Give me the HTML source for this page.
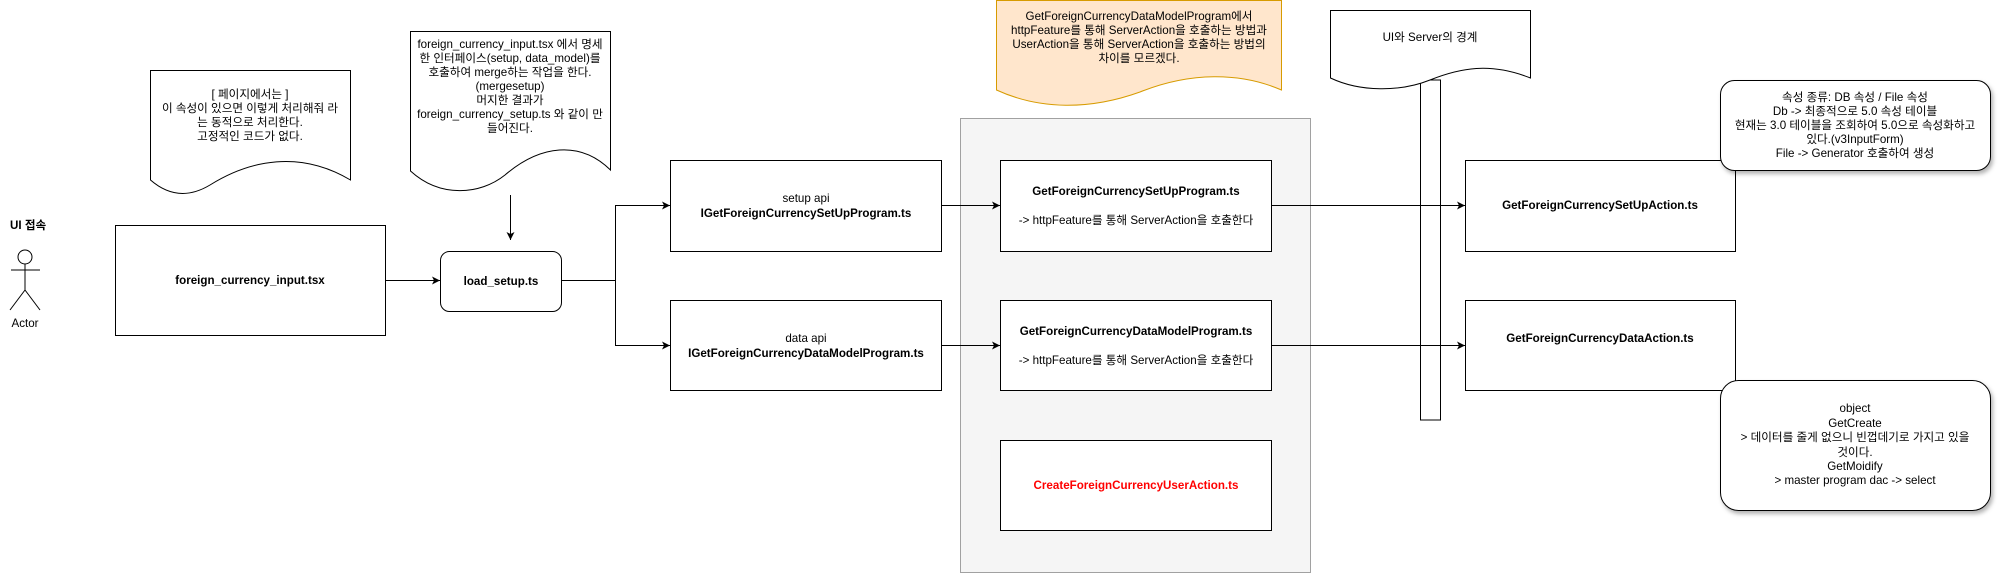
<!DOCTYPE html>
<html><head><meta charset="utf-8"><style>
html,body{margin:0;padding:0;background:#fff;}
svg{display:block;font-family:"Liberation Sans","Noto Sans CJK KR",sans-serif;}
text{font-size:11.6px;fill:#000;}
.b{font-weight:bold;}
</style></head><body>
<svg width="1998" height="574" viewBox="0 0 1998 574" xmlns="http://www.w3.org/2000/svg">
<defs>
<marker id="a" markerWidth="10" markerHeight="10" refX="9" refY="5" orient="auto" markerUnits="userSpaceOnUse">
<path d="M1,1 L9,5 L1,9 L3,5 Z" fill="#000"/></marker>
<filter id="sh" x="-10%" y="-10%" width="130%" height="130%"><feDropShadow dx="2" dy="3" stdDeviation="2" flood-opacity="0.3"/></filter>
</defs>

<rect x="960.5" y="118.5" width="350" height="454" fill="#f5f5f5" stroke="#666" stroke-opacity="0.6"/>

<path d="M150.5,70.5 H350.5 V180 C300,150 250,160 210,185 C190,197 170,197 150.5,180 Z" fill="#fff" stroke="#000"/>
<text text-anchor="middle" x="250" y="98">[ 페이지에서는 ]</text>
<text text-anchor="middle" x="250" y="112">이 속성이 있으면 이렇게 처리해줘 라</text>
<text text-anchor="middle" x="250" y="126">는 동적으로 처리한다.</text>
<text text-anchor="middle" x="250" y="140">고정적인 코드가 없다.</text>

<path d="M410.5,31.5 H610.5 V170 C580,140 540,145 505,175 C480,195 440,198 410.5,171 Z" fill="#fff" stroke="#000"/>
<text text-anchor="middle" x="510" y="48">foreign_currency_input.tsx 에서 명세</text>
<text text-anchor="middle" x="510" y="62">한 인터페이스(setup, data_model)를</text>
<text text-anchor="middle" x="510" y="76">호출하여 merge하는 작업을 한다.</text>
<text text-anchor="middle" x="510" y="90">(mergesetup)</text>
<text text-anchor="middle" x="510" y="104">머지한 결과가</text>
<text text-anchor="middle" x="510" y="118">foreign_currency_setup.ts 와 같이 만</text>
<text text-anchor="middle" x="510" y="132">들어진다.</text>
<line x1="510.5" y1="195" x2="510.5" y2="240" stroke="#000" marker-end="url(#a)"/>

<text class="b" x="10" y="229">UI 접속</text>
<circle cx="25" cy="257" r="7" fill="#fff" stroke="#000"/>
<line x1="25" y1="264" x2="25" y2="290" stroke="#000"/>
<line x1="11" y1="270" x2="40" y2="270" stroke="#000"/>
<line x1="25" y1="290" x2="10" y2="310" stroke="#000"/>
<line x1="25" y1="290" x2="40" y2="310" stroke="#000"/>
<text text-anchor="middle" x="25" y="327">Actor</text>

<rect x="115.5" y="225.5" width="270" height="110" fill="#fff" stroke="#000"/>
<text class="b" text-anchor="middle" x="250" y="284">foreign_currency_input.tsx</text>
<line x1="385" y1="280.5" x2="440" y2="280.5" stroke="#000" marker-end="url(#a)"/>

<rect x="440.5" y="251.5" width="121" height="60" rx="9" fill="#fff" stroke="#000"/>
<text class="b" text-anchor="middle" x="501" y="285">load_setup.ts</text>

<path d="M561,280.5 H615.5 V205.5 H670" fill="none" stroke="#000" marker-end="url(#a)"/>
<path d="M615.5,280 V345.5 H670" fill="none" stroke="#000" marker-end="url(#a)"/>

<rect x="670.5" y="160.5" width="271" height="91" fill="#fff" stroke="#000"/>
<text text-anchor="middle" x="806" y="202">setup api</text>
<text class="b" text-anchor="middle" x="806" y="217">IGetForeignCurrencySetUpProgram.ts</text>
<rect x="670.5" y="300.5" width="271" height="90" fill="#fff" stroke="#000"/>
<text text-anchor="middle" x="806" y="342">data api</text>
<text class="b" text-anchor="middle" x="806" y="357">IGetForeignCurrencyDataModelProgram.ts</text>

<line x1="941" y1="205.5" x2="1000" y2="205.5" stroke="#000" marker-end="url(#a)"/>
<line x1="941" y1="345.5" x2="1000" y2="345.5" stroke="#000" marker-end="url(#a)"/>

<path d="M996.5,0.5 H1281.5 V90 C1240,72 1190,72 1140,92 C1090,110 1040,110 996.5,90 Z" fill="#ffe6cc" stroke="#d79b00"/>
<text text-anchor="middle" x="1139" y="20">GetForeignCurrencyDataModelProgram에서</text>
<text text-anchor="middle" x="1139" y="34">httpFeature를 통해 ServerAction을 호출하는 방법과</text>
<text text-anchor="middle" x="1139" y="48">UserAction을 통해 ServerAction을 호출하는 방법의</text>
<text text-anchor="middle" x="1139" y="62">차이를 모르겠다.</text>

<rect x="1000.5" y="160.5" width="271" height="91" fill="#fff" stroke="#000"/>
<text class="b" text-anchor="middle" x="1136" y="195">GetForeignCurrencySetUpProgram.ts</text>
<text text-anchor="middle" x="1136" y="224">-&gt; httpFeature를 통해 ServerAction을 호출한다</text>
<rect x="1000.5" y="300.5" width="271" height="90" fill="#fff" stroke="#000"/>
<text class="b" text-anchor="middle" x="1136" y="335">GetForeignCurrencyDataModelProgram.ts</text>
<text text-anchor="middle" x="1136" y="364">-&gt; httpFeature를 통해 ServerAction을 호출한다</text>
<rect x="1000.5" y="440.5" width="271" height="90" fill="#fff" stroke="#000"/>
<text class="b" text-anchor="middle" x="1136" y="489" style="fill:#ff0000">CreateForeignCurrencyUserAction.ts</text>

<rect x="1420.5" y="80" width="20" height="340" fill="#fff" stroke="#000"/>
<path d="M1330.5,10.5 H1530.5 V78 C1490,62 1460,68 1430,80 C1400,92 1360,92 1330.5,78 Z" fill="#fff" stroke="#000"/>
<text text-anchor="middle" x="1430" y="41">UI와 Server의 경계</text>

<line x1="1271" y1="205.5" x2="1465" y2="205.5" stroke="#000" marker-end="url(#a)"/>
<line x1="1271" y1="345.5" x2="1465" y2="345.5" stroke="#000" marker-end="url(#a)"/>

<rect x="1465.5" y="160.5" width="270" height="91" fill="#fff" stroke="#000"/>
<text class="b" text-anchor="middle" x="1600" y="209">GetForeignCurrencySetUpAction.ts</text>
<rect x="1465.5" y="300.5" width="270" height="90" fill="#fff" stroke="#000"/>
<text class="b" text-anchor="middle" x="1600" y="342">GetForeignCurrencyDataAction.ts</text>

<rect x="1720.5" y="80.5" width="270" height="90" rx="14" fill="#fff" stroke="#000" filter="url(#sh)"/>
<text text-anchor="middle" x="1855" y="101">속성 종류: DB 속성 / File 속성</text>
<text text-anchor="middle" x="1855" y="115">Db -&gt; 최종적으로 5.0 속성 테이블</text>
<text text-anchor="middle" x="1855" y="129">현재는 3.0 테이블을 조회하여 5.0으로 속성화하고</text>
<text text-anchor="middle" x="1855" y="143">있다.(v3InputForm)</text>
<text text-anchor="middle" x="1855" y="157">File -&gt; Generator 호출하여 생성</text>

<rect x="1720.5" y="380.5" width="270" height="130" rx="18" fill="#fff" stroke="#000" filter="url(#sh)"/>
<text text-anchor="middle" x="1855" y="412">object</text>
<text text-anchor="middle" x="1855" y="427">GetCreate</text>
<text text-anchor="middle" x="1855" y="441">&gt; 데이터를 줄게 없으니 빈껍데기로 가지고 있을</text>
<text text-anchor="middle" x="1855" y="456">것이다.</text>
<text text-anchor="middle" x="1855" y="470">GetMoidify</text>
<text text-anchor="middle" x="1855" y="484">&gt; master program dac -&gt; select</text>
</svg>
</body></html>
